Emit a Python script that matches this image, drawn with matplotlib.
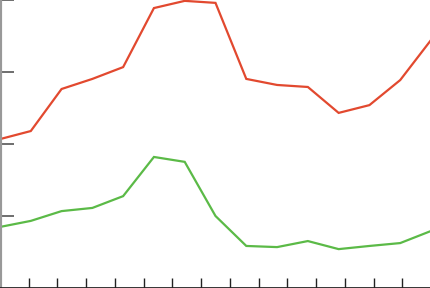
import numpy as np
import matplotlib
matplotlib.use("Agg")
import matplotlib.pyplot as plt

# values (0-100 scale)
red_vals = [51.7, 54.5, 69.1, 72.6, 76.7, 97.2, 99.7, 99.0, 72.6, 70.5, 69.8, 60.8, 63.5, 72.2, 86.1]
green_vals = [21.2, 23.3, 26.7, 27.8, 31.9, 45.5, 43.8, 25.0, 14.6, 14.2, 16.3, 13.5, 14.6, 15.6, 19.8]
y_ticks = [25, 50, 75, 100]

x = np.arange(len(red_vals))

fig = plt.figure(figsize=(4.31, 2.88), dpi=100)
ax = fig.add_axes([0, 0, 1, 1])

ax.plot(x, red_vals, color="#e2492f", lw=1.6, solid_joinstyle="miter")
ax.plot(x, green_vals, color="#5bba47", lw=1.6, solid_joinstyle="miter")

ax.set_xlim(0, len(x) - 1)
ax.set_ylim(0, 100)

# 15 tick intervals across the x range
xt = np.arange(1, 16) * (len(x) - 1) / 15
ax.set_xticks(xt)
ax.set_yticks(y_ticks)
ax.tick_params(axis="x", direction="in", length=7, width=1, color="#222222", labelbottom=False)
ax.tick_params(axis="y", direction="in", length=10, width=1.2, color="#555555", labelleft=False)

for s in ["top", "right"]:
    ax.spines[s].set_visible(False)
ax.spines["left"].set_color("#999999")
ax.spines["left"].set_linewidth(3)
ax.spines["bottom"].set_color("#222222")
ax.spines["bottom"].set_linewidth(2)

fig.savefig("out.png", dpi=100)
